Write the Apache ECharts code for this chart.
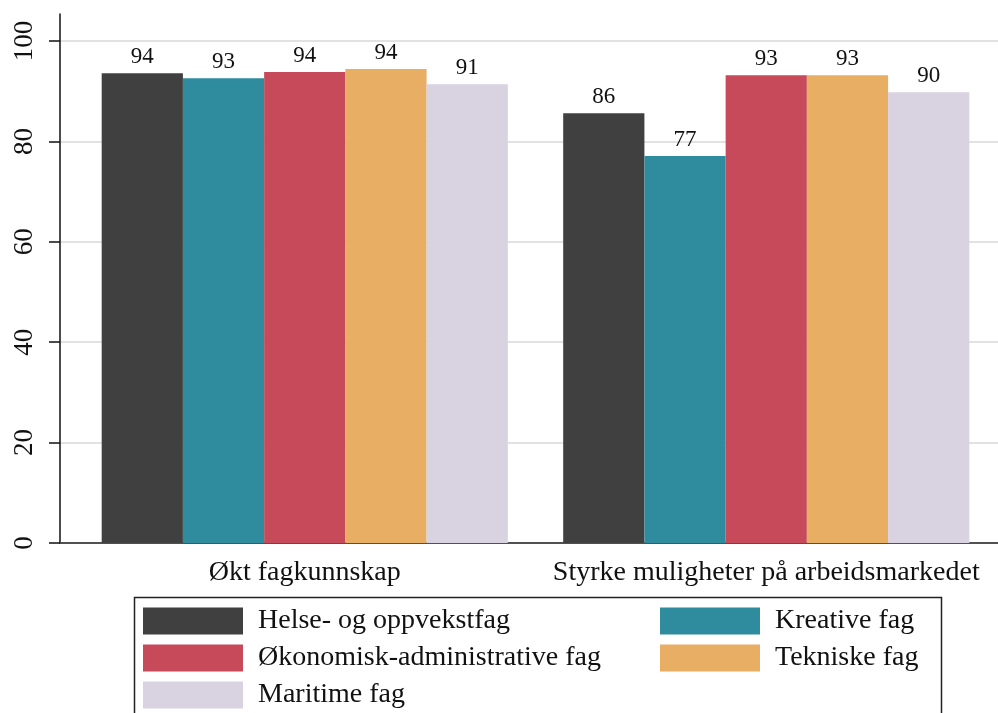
<!DOCTYPE html>
<html>
<head>
<meta charset="utf-8">
<script src="https://cdn.jsdelivr.net/npm/echarts@6/dist/echarts.min.js"></script>
<style>
  html, body { margin: 0; padding: 0; background: #fff; }
  #chart { width: 998px; height: 713px; }
</style>
</head>
<body>
<div id="chart"></div>
<script>
var categories = ['Økt fagkunnskap', 'Styrke muligheter på arbeidsmarkedet'];
var seriesNames = ['Helse- og oppvekstfag', 'Kreative fag', 'Økonomisk-administrative fag', 'Tekniske fag', 'Maritime fag'];
var colors = ['#404040', '#2e8c9e', '#c64a5a', '#e8ae64', '#d9d2e0'];
// verdier per fagområde: [Økt fagkunnskap, Styrke muligheter]
var helse = [93.6, 85.6];
var kreative = [92.6, 77.1];
var okonomisk = [93.8, 93.2];
var tekniske = [94.4, 93.2];
var maritime = [91.4, 89.8];
var yTicks = [0, 20, 40, 60, 80, 100];

var allData = [helse, kreative, okonomisk, tekniske, maritime];
var font = 'Liberation Serif';

var series = [];
for (var i = 0; i < seriesNames.length; i++) {
  series.push({
    name: seriesNames[i],
    type: 'bar',
    xAxisIndex: 3,
    yAxisIndex: 2,
    data: allData[i],
    barGap: '0%',
    barCategoryGap: '12%',
    itemStyle: { color: colors[i] },
    label: {
      show: true,
      position: 'top',
      distance: 5,
      fontFamily: font,
      fontSize: 23,
      color: '#111',
      formatter: function (p) { return Math.round(p.value); }
    }
  });
}

var hiddenAxis = { axisTick: { show: false }, axisLabel: { show: false }, splitLine: { show: false } };

var chart = echarts.init(document.getElementById('chart'));
chart.setOption({
  animation: false,
  textStyle: { fontFamily: font },
  grid: [
    { left: 60, right: 0, top: 14, bottom: 170 },  // ramme
    { left: 60, right: 0, top: 41, bottom: 170 },  // y-akse og rutenett
    { left: 74, right: 1, top: 41, bottom: 170 }   // stolper
  ],
  xAxis: [
    Object.assign({ gridIndex: 0, type: 'value', position: 'top', min: 0, max: 1,
      axisLine: { show: true, lineStyle: { color: '#111', width: 1.5 } } }, hiddenAxis),
    Object.assign({ gridIndex: 0, type: 'value', position: 'bottom', min: 0, max: 1,
      axisLine: { show: true, lineStyle: { color: '#555', width: 1.5 } } }, hiddenAxis),
    Object.assign({ gridIndex: 1, type: 'value', min: 0, max: 1,
      axisLine: { show: false } }, hiddenAxis),
    { gridIndex: 2, type: 'category', data: categories,
      axisLine: { show: false }, axisTick: { show: false },
      axisLabel: { interval: 0, fontFamily: font, fontSize: 28, color: '#111', margin: 16 } }
  ],
  yAxis: [
    Object.assign({ gridIndex: 0, type: 'value', min: 0, max: 1,
      axisLine: { show: true, lineStyle: { color: '#111', width: 1.5 } } }, hiddenAxis),
    { gridIndex: 1, type: 'value', min: yTicks[0], max: yTicks[yTicks.length - 1], interval: 20,
      axisLine: { show: false },
      axisTick: { show: true, length: 11, lineStyle: { color: '#111', width: 1.5 } },
      axisLabel: { rotate: 90, fontFamily: font, fontSize: 27, color: '#111', margin: 22 },
      splitLine: { show: true, lineStyle: { color: '#e2e2e2', width: 2 } } },
    { gridIndex: 2, type: 'value', min: 0, max: 100, show: false }
  ],
  legend: [
    { orient: 'vertical', left: 143, top: 607, padding: 0, itemWidth: 100, itemHeight: 27, itemGap: 9,
      icon: 'rect', selectedMode: false,
      data: [seriesNames[0], seriesNames[2], seriesNames[4]],
      textStyle: { fontFamily: font, fontSize: 28, color: '#111', padding: [0, 0, 0, 10] } },
    { orient: 'vertical', left: 660, top: 607, padding: 0, itemWidth: 100, itemHeight: 27, itemGap: 9,
      icon: 'rect', selectedMode: false,
      data: [seriesNames[1], seriesNames[3]],
      textStyle: { fontFamily: font, fontSize: 28, color: '#111', padding: [0, 0, 0, 10] } }
  ],
  graphic: [
    { type: 'rect', left: 132, top: 595, silent: true,
      shape: { width: 807, height: 140 },
      style: { fill: 'none', stroke: '#222', lineWidth: 1.5 } }
  ],
  series: series
});
</script>
</body>
</html>
